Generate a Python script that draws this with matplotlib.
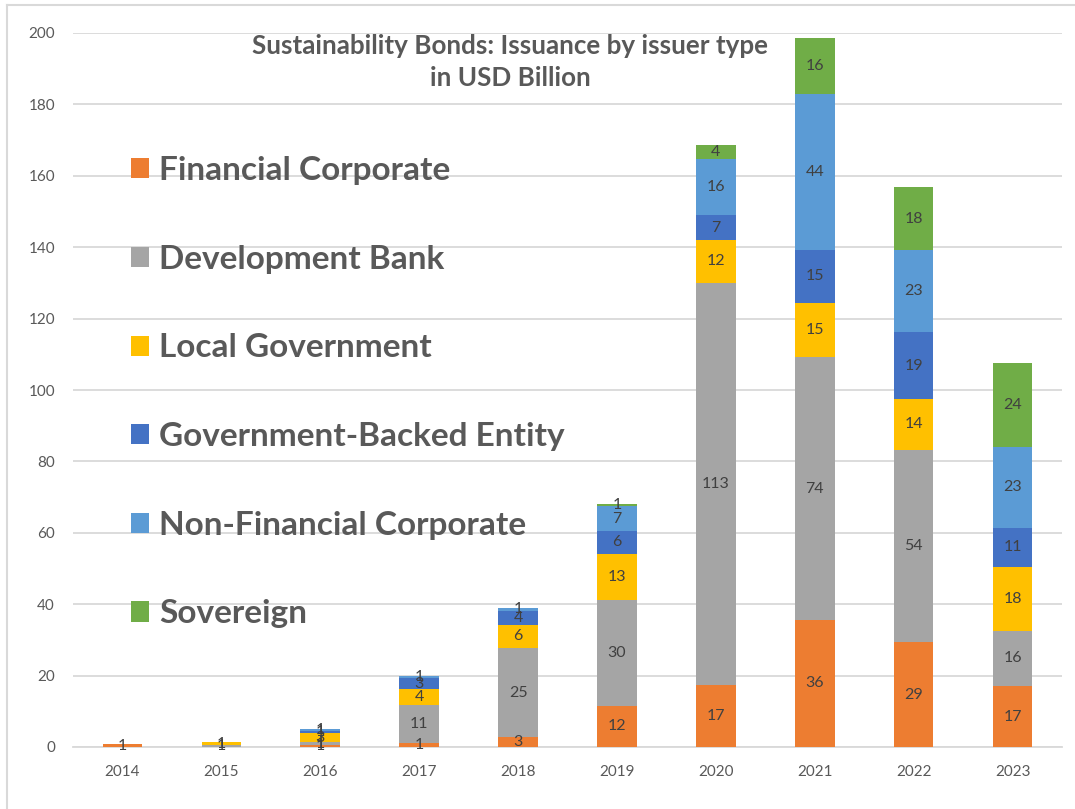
import matplotlib
matplotlib.use("Agg")
import matplotlib.pyplot as plt
from matplotlib.lines import Line2D
import numpy as np

# Sustainability bond issuance by issuer type, USD billion
years = ["2014", "2015", "2016", "2017", "2018", "2019", "2020", "2021", "2022", "2023"]
financial_corporate = [0.8, 0, 0.6, 1.0, 2.7, 11.5, 17.4, 35.6, 29.4, 17.0]
development_bank = [0, 0.55, 0.7, 10.9, 25.1, 29.7, 112.6, 73.6, 53.8, 15.6]
local_government = [0, 0.85, 2.6, 4.4, 6.4, 12.9, 12.0, 15.2, 14.3, 17.8]
government_backed = [0, 0, 0.55, 2.9, 3.9, 6.4, 7.0, 14.8, 18.7, 11.0]
non_financial_corporate = [0, 0, 0.7, 0.8, 0.9, 7.0, 15.7, 43.6, 23.0, 22.6]
sovereign = [0, 0, 0, 0, 0, 0.6, 3.9, 15.8, 17.6, 23.5]

series_names = ["Financial Corporate", "Development Bank", "Local Government",
                "Government-Backed Entity", "Non-Financial Corporate", "Sovereign"]
series_values = [financial_corporate, development_bank, local_government,
                 government_backed, non_financial_corporate, sovereign]
series_colors = ["#ED7D31", "#A5A5A5", "#FFC000", "#4472C4", "#5B9BD5", "#70AD47"]

title_lines = ["Sustainability Bonds: Issuance by issuer type", "in USD Billion"]
y_ticks = list(range(0, 201, 20))

FONT = ["Lato", "DejaVu Sans"]
plt.rcParams["font.family"] = FONT

W, H = 1075, 809
fig = plt.figure(figsize=(W / 100, H / 100), dpi=100)
ax = fig.add_axes([73 / W, 1 - 747 / H, (1062 - 73) / W, (747 - 33) / H])

x = np.arange(len(years))
bottom = np.zeros(len(years))
for name, vals, color in zip(series_names, series_values, series_colors):
    vals = np.array(vals, dtype=float)
    bars = ax.bar(x, vals, width=0.4, bottom=bottom, color=color, label=name,
                  linewidth=0, zorder=3)
    labels = ["%.0f" % v if v > 0 else "" for v in vals]
    ax.bar_label(bars, labels=labels, label_type="center", color="#404040",
                 fontsize=11.5, zorder=4)
    bottom += vals

ax.set_xlim(-0.5, len(years) - 0.5)
ax.set_ylim(0, 200)
ax.set_yticks(y_ticks)
ax.set_xticks(x)
ax.set_xticklabels(years)
ax.tick_params(axis="both", length=0, colors="#595959", labelsize=11)
ax.tick_params(axis="y", pad=13)
ax.tick_params(axis="x", pad=13)
ax.grid(axis="y", color="#D9D9D9", linewidth=1.3, zorder=0)
for side in ["top", "right", "left"]:
    ax.spines[side].set_visible(False)
ax.spines["bottom"].set_color("#D9D9D9")
ax.spines["bottom"].set_linewidth(1.3)

# Chart title
fig.text(510 / W, 1 - 46 / H, title_lines[0], ha="center", va="center",
         fontsize=18.7, fontweight="bold", color="#595959")
fig.text(510 / W, 1 - 78 / H, title_lines[1], ha="center", va="center",
         fontsize=18.7, fontweight="bold", color="#595959")

# Legend in the upper-left part of the plot
leg = ax.legend(loc="upper left", bbox_to_anchor=(131 / W, 1 - 156 / H),
                bbox_transform=fig.transFigure, frameon=False,
                prop={"family": FONT, "weight": "bold", "size": 24},
                labelcolor="#595959", handlelength=0.55, handleheight=0.55,
                handletextpad=0.3, labelspacing=1.79, borderaxespad=0,
                borderpad=0)

# Outer chart border
fig.add_artist(Line2D([7 / W, 1], [1 - 5 / H, 1 - 5 / H], transform=fig.transFigure,
                      color="#D9D9D9", linewidth=1.5))
fig.add_artist(Line2D([7 / W, 7 / W], [0, 1 - 5 / H], transform=fig.transFigure,
                      color="#D9D9D9", linewidth=1.5))

fig.savefig("out.png", dpi=100)
